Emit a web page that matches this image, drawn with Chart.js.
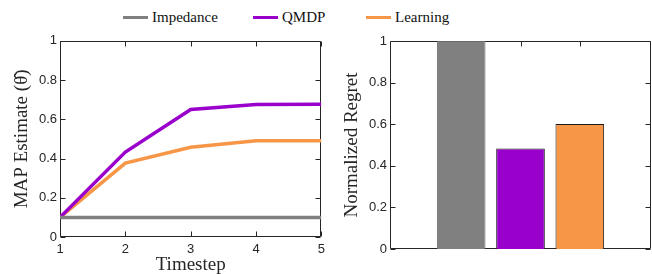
<!DOCTYPE html>
<html>
<head>
<meta charset="utf-8">
<script src="https://cdn.jsdelivr.net/npm/chart.js@4"></script>
<style>
  body { margin: 0; width: 652px; height: 274px; background: #fff; position: relative; overflow: hidden; }
  #left { position: absolute; left: 0; top: 30px; }
  #right { position: absolute; left: 330px; top: 30px; }
  .key { position: absolute; top: 8px; font: 15px "Liberation Serif", serif; color: #111; line-height: 18px; white-space: nowrap; }
  .key i { display: inline-block; width: 25px; height: 3px; vertical-align: middle; margin-right: 4px; position: relative; top: -1px; }
</style>
</head>
<body>
<div id="legend"></div>
<canvas id="left" width="330" height="244"></canvas>
<canvas id="right" width="322" height="244"></canvas>
<script>
const timesteps = [1, 2, 3, 4, 5];
const impedance = [0.1, 0.1, 0.1, 0.1, 0.1];
const qmdp = [0.1, 0.433, 0.65, 0.675, 0.677];
const learning = [0.1, 0.377, 0.457, 0.491, 0.491];
const methods = ['Impedance', 'QMDP', 'Learning'];
const regret = [1.0, 0.483, 0.601];
const yTicks = [0, 0.2, 0.4, 0.6, 0.8, 1];
const colors = ['#808080', '#9900cc', '#f79646'];

const ink = '#262626';
const tickFont = { family: 'Liberation Sans', size: 13 };
const titleFont = { family: '"Liberation Serif", "DejaVu Serif", serif', size: 19, lineHeight: 1 };

// legend across the top
const legendLeft = [123, 253, 366];
const legend = document.getElementById('legend');
methods.forEach((name, i) => {
    const item = document.createElement('div');
    item.className = 'key';
    item.style.left = legendLeft[i] + 'px';
    item.innerHTML = `<i style="background:${colors[i]}"></i>${name}`;
    legend.appendChild(item);
});

// MATLAB style box with inward ticks, drawn under the data
const boxPlugin = {
    id: 'box',
    beforeDatasetsDraw(chart, args, opts) {
        const { ctx, chartArea: a, scales: { x, y } } = chart;
        const L = Math.round(a.left) + 0.5, R = Math.round(a.right) - 0.5;
        const T = Math.round(a.top) + 0.5, B = Math.round(a.bottom) - 0.5;
        const len = 5;
        ctx.save();
        ctx.strokeStyle = ink;
        ctx.lineWidth = 1;
        ctx.beginPath();
        y.ticks.forEach(t => {
            const py = Math.round(y.getPixelForValue(t.value)) + 0.5;
            ctx.moveTo(L, py); ctx.lineTo(L + len, py);
            ctx.moveTo(R, py); ctx.lineTo(R - len, py);
        });
        opts.xTicks.forEach(v => {
            const px = Math.round(x.getPixelForValue(v)) + 0.5;
            ctx.moveTo(px, B); ctx.lineTo(px, B - len);
            ctx.moveTo(px, T); ctx.lineTo(px, T + len);
        });
        ctx.rect(L, T, R - L, B - T);
        ctx.stroke();
        ctx.restore();
    }
};

const yScale = (title) => ({
    min: 0, max: 1,
    afterBuildTicks: s => { s.ticks = yTicks.map(v => ({ value: v })); },
    afterFit: s => { s.width = 60; },
    grid: { display: false, drawTicks: false },
    border: { display: false },
    ticks: { font: tickFont, color: ink, padding: 3, callback: v => String(+v.toFixed(1)) },
    title: { display: true, text: title, font: titleFont, color: ink, padding: { top: 13 } }
});

new Chart(document.getElementById('left'), {
    type: 'line',
    data: {
        datasets: [impedance, qmdp, learning].map((vals, i) => ({
            label: methods[i],
            data: vals.map((v, j) => ({ x: timesteps[j], y: v })),
            borderColor: colors[i],
            borderWidth: 3.5,
            pointRadius: 0,
            tension: 0
        }))
    },
    options: {
        responsive: false,
        animation: false,
        layout: { padding: { left: 0, right: 8, top: 10, bottom: 0 } },
        plugins: { legend: { display: false }, tooltip: { enabled: false }, box: { xTicks: timesteps } },
        scales: {
            x: {
                type: 'linear', min: 1, max: 5,
                afterBuildTicks: s => { s.ticks = timesteps.map(v => ({ value: v })); },
                afterFit: s => { s.height = 37; },
                grid: { display: false, drawTicks: false },
                border: { display: false },
                ticks: { font: tickFont, color: ink, padding: 5, maxRotation: 0 },
                title: { display: true, text: 'Timestep', font: titleFont, color: ink, padding: { top: 0, bottom: -1 } }
            },
            y: yScale('MAP Estimate (θ\u0302)')
        }
    },
    plugins: [boxPlugin]
});

new Chart(document.getElementById('right'), {
    type: 'bar',
    data: {
        datasets: [{
            label: 'Normalized Regret',
            data: regret.map((v, i) => ({ x: i + 1, y: v })),
            backgroundColor: colors,
            borderColor: ['#6a6a6a', '#1a1a1a', '#1a1a1a'],
            borderWidth: 1,
            barPercentage: 1,
            categoryPercentage: 0.82
        }]
    },
    options: {
        responsive: false,
        animation: false,
        layout: { padding: { left: 0, right: 1, top: 11, bottom: 0 } },
        plugins: { legend: { display: false }, tooltip: { enabled: false }, box: { xTicks: [1, 2, 3] } },
        scales: {
            x: {
                type: 'linear', min: -0.2, max: 4.2, offset: false,
                afterFit: s => { s.height = 25; },
                grid: { display: false, drawTicks: false, offset: false },
                border: { display: false },
                ticks: { display: false }
            },
            y: yScale('Normalized Regret')
        }
    },
    plugins: [boxPlugin]
});
</script>
</body>
</html>
